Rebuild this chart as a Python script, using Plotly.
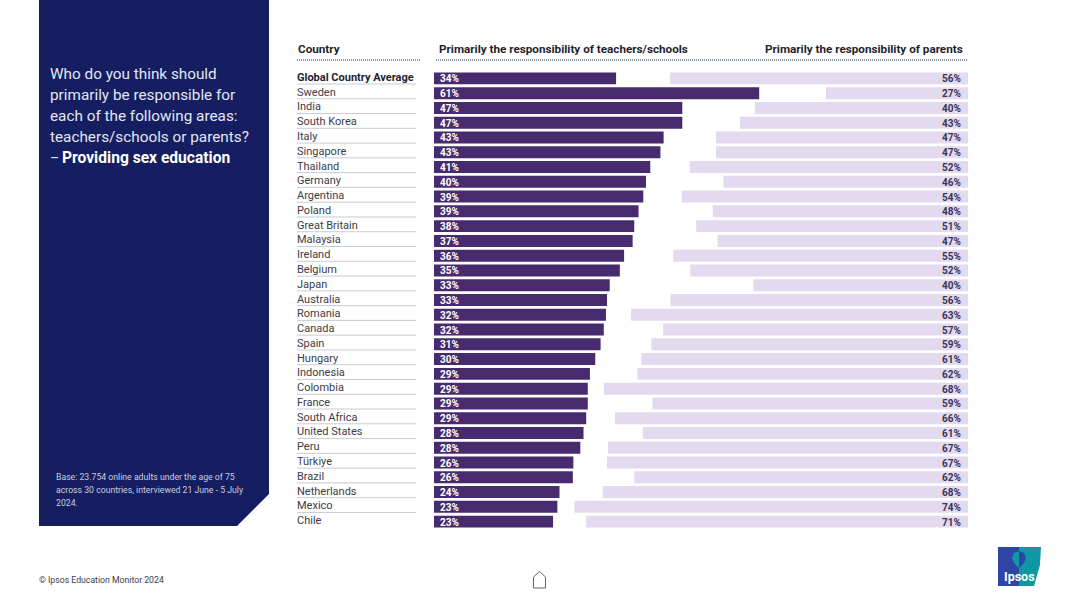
import plotly.graph_objects as go

countries = ["Global Country Average", "Sweden", "India", "South Korea", "Italy", "Singapore",
             "Thailand", "Germany", "Argentina", "Poland", "Great Britain", "Malaysia", "Ireland",
             "Belgium", "Japan", "Australia", "Romania", "Canada", "Spain", "Hungary", "Indonesia",
             "Colombia", "France", "South Africa", "United States", "Peru", "Türkiye", "Brazil",
             "Netherlands", "Mexico", "Chile"]

# printed labels
teachers_labels = [34, 61, 47, 47, 43, 43, 41, 40, 39, 39, 38, 37, 36, 35, 33, 33, 32, 32, 31, 30,
                   29, 29, 29, 29, 28, 28, 26, 26, 24, 23, 23]
parents_labels = [56, 27, 40, 43, 47, 47, 52, 46, 54, 48, 51, 47, 55, 52, 40, 56, 63, 57, 59, 61,
                  62, 68, 59, 66, 61, 67, 67, 62, 68, 74, 71]

# bar lengths, they differ a little from the rounded labels
teachers = [34.1, 60.9, 46.5, 46.5, 43.0, 42.4, 40.5, 39.7, 39.2, 38.3, 37.5, 37.2, 35.6, 34.8,
            32.9, 32.4, 32.2, 31.8, 31.2, 30.2, 29.2, 28.8, 28.8, 28.5, 28.0, 27.4, 26.1, 26.0,
            23.5, 23.1, 22.3]
parents = [55.8, 26.6, 39.9, 42.7, 47.2, 47.2, 52.1, 45.8, 53.6, 47.8, 50.9, 46.9, 55.2, 52.0,
           40.2, 55.7, 63.1, 57.1, 59.3, 61.2, 61.9, 68.2, 59.1, 66.1, 60.9, 67.4, 67.6, 62.5,
           68.4, 73.7, 71.5]

question = ["Who do you think should", "primarily be responsible for", "each of the following areas:",
            "teachers/schools or parents?"]
base_note = ["Base: 23.754 online adults under the age of 75",
             "across 30 countries, interviewed 21 June - 5 July", "2024."]

PLOT_L, PLOT_R, PLOT_T, PLOT_B = 434, 968, 71, 529
NAVY = "#141e60"
DARK = "#1f1f2e"


def px(x):
    return (x - PLOT_L) / (PLOT_R - PLOT_L)


def py(y):
    return (PLOT_B - y) / (PLOT_B - PLOT_T)


def note(x, y, text, size, color=DARK, anchor="left", family="Roboto"):
    # annotations carry 2px of padding
    shift = {"left": -2, "right": 2, "center": 0}[anchor]
    fig.add_annotation(x=px(x + shift), y=py(y), xref="paper", yref="paper", text=text, showarrow=False,
                       xanchor=anchor, yanchor="middle", align=anchor,
                       font=dict(size=size, color=color, family=family))


def path(points, **kw):
    d = "M" + " L".join("%.4f,%.4f" % (px(x), py(y)) for x, y in points) + " Z"
    fig.add_shape(type="path", path=d, xref="paper", yref="paper", **kw)


fig = go.Figure()
fig.add_trace(go.Bar(y=countries, x=teachers, orientation="h", marker=dict(color="#482a6e", line_width=0),
                     showlegend=False))
fig.add_trace(go.Bar(y=countries, x=parents, base=[100 - v for v in parents], orientation="h",
                     marker=dict(color="#e3daf0", line_width=0), showlegend=False))

fig.update_layout(width=1080, height=607, barmode="overlay", bargap=0.19, plot_bgcolor="white",
                  paper_bgcolor="white", margin=dict(l=PLOT_L, r=1080 - PLOT_R, t=PLOT_T, b=607 - PLOT_B),
                  font=dict(family="Roboto"))
fig.update_xaxes(range=[0, 100], visible=False)
fig.update_yaxes(range=[30.5, -0.5], visible=False, categoryorder="array", categoryarray=countries)

# navy question panel
path([(39, 0), (269, 0), (269, 494), (237, 526), (39, 526)], fillcolor=NAVY, line_width=0, layer="below")
for i, line in enumerate(question):
    note(50, 74 + i * 21, line, 15.3, "#e4e6f0")
note(50, 158, "–", 14, "#e4e6f0")
note(62, 158, "<b>Providing sex education</b>", 15.6, "white")
for i, line in enumerate(base_note):
    note(56, 477 + i * 13, line, 8.7, "#c9cde0")

# column headers
note(298, 48.5, "<b>Country</b>", 11.7)
note(439, 48.5, "<b>Primarily the responsibility of teachers/schools</b>", 11.7)
note(963, 48.5, "<b>Primarily the responsibility of parents</b>", 11.7, anchor="right")
for x0, x1 in [(297, 420), (436, 968)]:
    fig.add_shape(type="line", xref="paper", yref="paper", x0=px(x0), x1=px(x1), y0=py(60), y1=py(60),
                  line=dict(color="#1d2a50", width=1.2, dash="1px,1px"))

# country names with separators, value labels in the bars
for i, name in enumerate(countries):
    fig.add_annotation(x=px(295), xref="paper", y=name, yref="y", yshift=1, showarrow=False, xanchor="left",
                       text="<b>%s</b>" % name if i == 0 else name,
                       font=dict(size=11, color=DARK if i == 0 else "#3c3c46", family="Roboto"))
    fig.add_annotation(x=0, y=name, xshift=4, yshift=-0.5, showarrow=False, xanchor="left",
                       text="<b>%d%%</b>" % teachers_labels[i],
                       font=dict(size=10, color="white", family="Roboto"))
    fig.add_annotation(x=100, y=name, xshift=-5, yshift=-0.5, showarrow=False, xanchor="right",
                       text="<b>%d%%</b>" % parents_labels[i],
                       font=dict(size=10, color="#3a3552", family="Roboto"))
    if i < len(countries) - 1:
        fig.add_shape(type="line", xref="paper", yref="y", x0=px(297), x1=px(416), y0=i + 0.38, y1=i + 0.38,
                      line=dict(color="#c8cbd2", width=1))

# footer
note(39, 580, "© Ipsos Education Monitor 2024", 8.7, "#3c3c46")
path([(533.5, 588), (533.5, 577), (539.5, 571.5), (545.5, 577), (545.5, 588)],
     fillcolor="white", line=dict(color="#66666c", width=1))

# logo
path([(998, 547), (1019, 547), (1019, 586), (998, 586)], fillcolor="#2f45a5", line_width=0)
path([(1019, 547), (1041, 547), (1040, 565), (1034, 586), (1019, 586)], fillcolor="#0e98a4", line_width=0)
path([(1019, 551), (1014, 553), (1012, 558), (1014, 563), (1019, 568)], fillcolor="#0e98a4", line_width=0)
path([(1019, 551), (1024, 553), (1026, 558), (1024, 563), (1019, 568)], fillcolor="#2f45a5", line_width=0)
note(1019, 576, "<b>Ipsos</b>", 12.5, "white", anchor="center")

fig.write_html("out.html", config=dict(displayModeBar=False), post_script="document.body.style.margin='0';")
